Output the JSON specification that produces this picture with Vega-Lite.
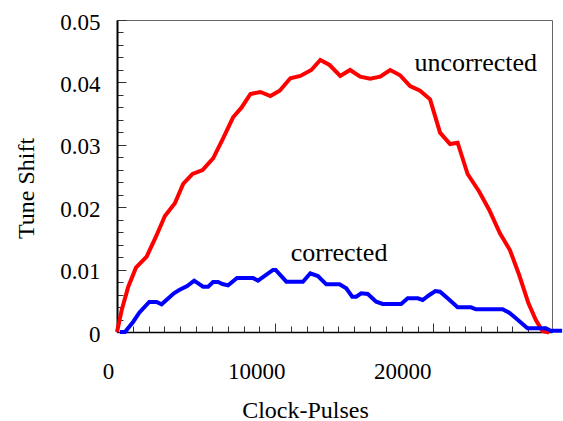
{
  "$schema": "https://vega.github.io/schema/vega-lite/v6.json",
  "width": 435,
  "height": 312,
  "autosize": {"type": "none"},
  "padding": {"left": 117, "top": 20, "right": 11, "bottom": 89},
  "background": "white",
  "config": {"view": {"stroke": "#666666", "strokeWidth": 1}, "font": "Liberation Serif"},
  "datasets": {
    "curves": [
      {"series": "uncorrected", "x": 0, "y": 0},
      {"series": "uncorrected", "x": 297, "y": 0.00353},
      {"series": "uncorrected", "x": 713, "y": 0.00726},
      {"series": "uncorrected", "x": 1199, "y": 0.0103},
      {"series": "uncorrected", "x": 1874, "y": 0.01207},
      {"series": "uncorrected", "x": 2461, "y": 0.01527},
      {"series": "uncorrected", "x": 3028, "y": 0.01859},
      {"series": "uncorrected", "x": 3659, "y": 0.02062},
      {"series": "uncorrected", "x": 4183, "y": 0.02372},
      {"series": "uncorrected", "x": 4776, "y": 0.02532},
      {"series": "uncorrected", "x": 5407, "y": 0.02596},
      {"series": "uncorrected", "x": 6076, "y": 0.02784},
      {"series": "uncorrected", "x": 6707, "y": 0.03104},
      {"series": "uncorrected", "x": 7338, "y": 0.03441},
      {"series": "uncorrected", "x": 7868, "y": 0.03595},
      {"series": "uncorrected", "x": 8435, "y": 0.03814},
      {"series": "uncorrected", "x": 9066, "y": 0.03846},
      {"series": "uncorrected", "x": 9697, "y": 0.03782},
      {"series": "uncorrected", "x": 10284, "y": 0.03867},
      {"series": "uncorrected", "x": 10959, "y": 0.04066},
      {"series": "uncorrected", "x": 11590, "y": 0.04103},
      {"series": "uncorrected", "x": 12284, "y": 0.04199},
      {"series": "uncorrected", "x": 12852, "y": 0.04359},
      {"series": "uncorrected", "x": 13438, "y": 0.04279},
      {"series": "uncorrected", "x": 14114, "y": 0.04103},
      {"series": "uncorrected", "x": 14732, "y": 0.04199},
      {"series": "uncorrected", "x": 15375, "y": 0.04091},
      {"series": "uncorrected", "x": 16006, "y": 0.04059},
      {"series": "uncorrected", "x": 16637, "y": 0.04091},
      {"series": "uncorrected", "x": 17268, "y": 0.04199},
      {"series": "uncorrected", "x": 17899, "y": 0.04114},
      {"series": "uncorrected", "x": 18530, "y": 0.03942},
      {"series": "uncorrected", "x": 19161, "y": 0.03867},
      {"series": "uncorrected", "x": 19792, "y": 0.03729},
      {"series": "uncorrected", "x": 20423, "y": 0.03194},
      {"series": "uncorrected", "x": 21054, "y": 0.03013},
      {"series": "uncorrected", "x": 21533, "y": 0.03034},
      {"series": "uncorrected", "x": 22164, "y": 0.02532},
      {"series": "uncorrected", "x": 22902, "y": 0.02248},
      {"series": "uncorrected", "x": 23533, "y": 0.01955},
      {"series": "uncorrected", "x": 24208, "y": 0.01582},
      {"series": "uncorrected", "x": 24839, "y": 0.01314},
      {"series": "uncorrected", "x": 25426, "y": 0.00913},
      {"series": "uncorrected", "x": 26013, "y": 0.0046},
      {"series": "uncorrected", "x": 26480, "y": 0.00192},
      {"series": "uncorrected", "x": 26896, "y": 0.00016},
      {"series": "uncorrected", "x": 27319, "y": -0.0001},
      {"series": "corrected", "x": 189, "y": 0},
      {"series": "corrected", "x": 505, "y": 0},
      {"series": "corrected", "x": 1028, "y": 0.00165},
      {"series": "corrected", "x": 1407, "y": 0.00309},
      {"series": "corrected", "x": 2038, "y": 0.00481},
      {"series": "corrected", "x": 2505, "y": 0.00481},
      {"series": "corrected", "x": 2820, "y": 0.00444},
      {"series": "corrected", "x": 3596, "y": 0.0062},
      {"series": "corrected", "x": 3931, "y": 0.00673},
      {"series": "corrected", "x": 4435, "y": 0.00737},
      {"series": "corrected", "x": 4877, "y": 0.00822},
      {"series": "corrected", "x": 5445, "y": 0.00726},
      {"series": "corrected", "x": 5760, "y": 0.00726},
      {"series": "corrected", "x": 6076, "y": 0.00801},
      {"series": "corrected", "x": 6391, "y": 0.00801},
      {"series": "corrected", "x": 6669, "y": 0.00769},
      {"series": "corrected", "x": 7022, "y": 0.00748},
      {"series": "corrected", "x": 7590, "y": 0.00865},
      {"series": "corrected", "x": 8599, "y": 0.00865},
      {"series": "corrected", "x": 8915, "y": 0.00822},
      {"series": "corrected", "x": 9861, "y": 0.00994},
      {"series": "corrected", "x": 10032, "y": 0.00994},
      {"series": "corrected", "x": 10707, "y": 0.00806},
      {"series": "corrected", "x": 11754, "y": 0.00806},
      {"series": "corrected", "x": 12221, "y": 0.00941},
      {"series": "corrected", "x": 12700, "y": 0.00897},
      {"series": "corrected", "x": 13230, "y": 0.00764},
      {"series": "corrected", "x": 14069, "y": 0.00764},
      {"series": "corrected", "x": 14492, "y": 0.007},
      {"series": "corrected", "x": 14871, "y": 0.00566},
      {"series": "corrected", "x": 15123, "y": 0.00566},
      {"series": "corrected", "x": 15438, "y": 0.0062},
      {"series": "corrected", "x": 15855, "y": 0.00609},
      {"series": "corrected", "x": 16385, "y": 0.00486},
      {"series": "corrected", "x": 16801, "y": 0.00449},
      {"series": "corrected", "x": 17962, "y": 0.00449},
      {"series": "corrected", "x": 18379, "y": 0.0054},
      {"series": "corrected", "x": 19009, "y": 0.0054},
      {"series": "corrected", "x": 19325, "y": 0.00513},
      {"series": "corrected", "x": 19748, "y": 0.00593},
      {"series": "corrected", "x": 20126, "y": 0.00657},
      {"series": "corrected", "x": 20423, "y": 0.00646},
      {"series": "corrected", "x": 20902, "y": 0.0054},
      {"series": "corrected", "x": 21533, "y": 0.00396},
      {"series": "corrected", "x": 22379, "y": 0.00396},
      {"series": "corrected", "x": 22694, "y": 0.00364},
      {"series": "corrected", "x": 24372, "y": 0.00364},
      {"series": "corrected", "x": 24795, "y": 0.00309},
      {"series": "corrected", "x": 25218, "y": 0.0022},
      {"series": "corrected", "x": 25950, "y": 0.00059},
      {"series": "corrected", "x": 27110, "y": 0.00059},
      {"series": "corrected", "x": 27420, "y": 0.00021},
      {"series": "corrected", "x": 28140, "y": 0.00021}
    ],
    "notes": [
      {"label": "uncorrected", "x": 18800, "y": 0.0418},
      {"label": "corrected", "x": 10980, "y": 0.01143}
    ]
  },
  "layer": [
    {
      "data": {"name": "curves"},
      "mark": {"type": "line", "strokeWidth": 4, "clip": false},
      "encoding": {
        "x": {
          "field": "x", "type": "quantitative",
          "scale": {"domain": [0, 27500], "nice": false, "zero": false},
          "axis": {
            "values": [0,1000,2000,3000,4000,5000,6000,7000,8000,9000,10000,11000,12000,13000,14000,15000,16000,17000,18000,19000,20000,21000,22000,23000,24000,25000,26000,27000],
            "tickCount": 200,
            "format": "d",
            "labelExpr": "datum.value % 10000 == 0 ? datum.label : ''",
            "labelFont": "Liberation Serif", "labelFontSize": 23, "labelColor": "black",
            "labelFlush": false, "labelOverlap": false, "labelBound": false,
            "labelPadding": 37,
            "labelOffset": {"condition": [{"test": "datum.value == 10000", "value": -19}, {"test": "datum.value == 20000", "value": -31}], "value": -9},
            "tickSize": {"condition": {"test": "datum.value % 10000 == 0", "value": -9}, "value": -6},
            "tickColor": "#333333", "tickWidth": 1,
            "domainColor": "black", "domainWidth": 1.5,
            "grid": false,
            "title": "Clock-Pulses",
            "titleFont": "Liberation Serif", "titleFontSize": 24, "titleFontWeight": "normal", "titleColor": "black",
            "titleX": 188, "titleY": 85, "titleBaseline": "alphabetic", "titleAlign": "center"
          }
        },
        "y": {
          "field": "y", "type": "quantitative",
          "scale": {"domain": [0, 0.05], "nice": false, "zero": false},
          "axis": {
            "values": [0,0.002,0.004,0.006,0.008,0.01,0.012,0.014,0.016,0.018,0.02,0.022,0.024,0.026,0.028,0.03,0.032,0.034,0.036,0.038,0.04,0.042,0.044,0.046,0.048,0.05],
            "tickCount": 200,
            "labelExpr": "abs(datum.value*100 - round(datum.value*100)) < 0.001 ? (datum.value == 0 ? '0' : format(datum.value, '.2f')) : ''",
            "labelFont": "Liberation Serif", "labelFontSize": 23, "labelColor": "black",
            "labelFlush": false, "labelOverlap": false, "labelBound": false,
            "labelPadding": 26, "labelOffset": 2,
            "tickSize": {"condition": {"test": "abs(datum.value*100 - round(datum.value*100)) < 0.001", "value": -9}, "value": -6},
            "tickColor": "#333333", "tickWidth": 1,
            "domainColor": "black", "domainWidth": 2,
            "grid": false,
            "title": "Tune Shift",
            "titleFont": "Liberation Serif", "titleFontSize": 24, "titleFontWeight": "normal", "titleColor": "black",
            "titleX": -84, "titleY": 168, "titleAngle": -90, "titleBaseline": "alphabetic", "titleAlign": "center"
          }
        },
        "color": {
          "field": "series", "type": "nominal",
          "scale": {"domain": ["uncorrected", "corrected"], "range": ["#ff0000", "#0000ff"]},
          "legend": null
        }
      }
    },
    {
      "data": {"name": "notes"},
      "mark": {"type": "text", "align": "left", "baseline": "alphabetic", "font": "Liberation Serif", "fontSize": 26, "color": "black"},
      "encoding": {
        "x": {"field": "x", "type": "quantitative"},
        "y": {"field": "y", "type": "quantitative"},
        "text": {"field": "label", "type": "nominal"}
      }
    }
  ]
}
